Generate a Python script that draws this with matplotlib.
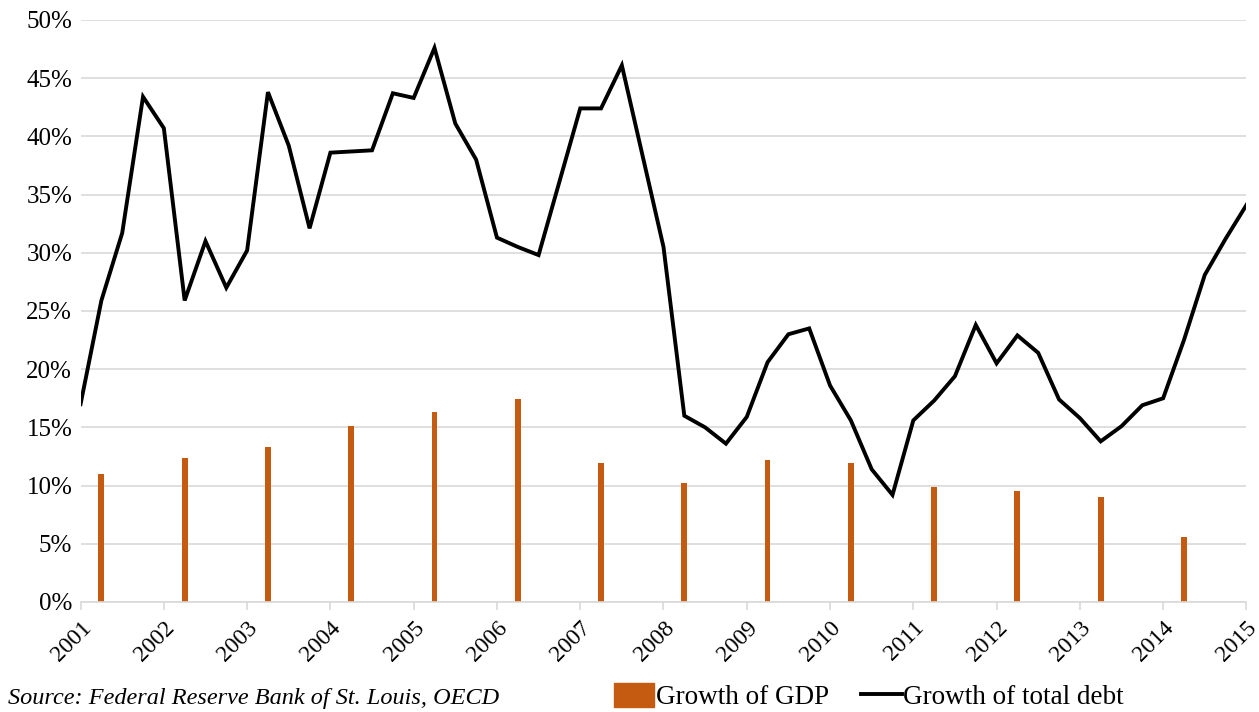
import matplotlib.pyplot as plt
from matplotlib.lines import Line2D
from matplotlib.patches import Patch

plt.rcParams['font.family'] = ['Liberation Serif', 'DejaVu Serif']

# quarterly growth of total debt (%), 2001Q1 .. 2015Q1
debt_growth = [
    17.0, 25.9, 31.7, 43.4, 40.7, 25.9, 31.0, 27.0, 30.2, 43.8,
    39.2, 32.1, 38.6, 38.7, 38.8, 43.7, 43.3, 47.6, 41.1, 38.0,
    31.3, 30.5, 29.8, 36.1, 42.4, 42.4, 46.1, 38.3, 30.5, 16.0,
    15.0, 13.6, 15.9, 20.6, 23.0, 23.5, 18.6, 15.6, 11.4, 9.2,
    15.6, 17.3, 19.4, 23.8, 20.5, 22.9, 21.4, 17.4, 15.8, 13.8,
    15.1, 16.9, 17.5, 22.5, 28.1, 31.2, 34.1,
]
debt_x = [2001 + i / 4 for i in range(len(debt_growth))]

# annual GDP growth (%), plotted at Q2 of each year
gdp_years = list(range(2001, 2015))
gdp_growth = [11.0, 12.4, 13.3, 15.1, 16.3, 17.4, 11.9, 10.2, 12.2, 11.9, 9.9, 9.5, 9.0, 5.6]
gdp_x = [y + 0.25 for y in gdp_years]

year_ticks = list(range(2001, 2016))

ORANGE = '#C55A11'
GRID = '#D9D9D9'

fig = plt.figure(figsize=(12.59, 7.12), dpi=100)
ax = fig.add_axes([0.064, 0.1545, 0.926, 0.8175])

ax.bar(gdp_x, gdp_growth, width=0.07, color=ORANGE, zorder=2)
ax.plot(debt_x, debt_growth, color='black', linewidth=2.8, zorder=3,
        solid_joinstyle='miter')

ax.set_xlim(2001, 2015)
ax.set_ylim(0, 50)
ax.set_yticks(range(0, 51, 5))
ax.set_yticklabels([f'{v}%' for v in range(0, 51, 5)], fontsize=18)
ax.yaxis.grid(True, color=GRID, linewidth=1.2, zorder=0)
ax.set_axisbelow(True)

ax.set_xticks(year_ticks)
ax.set_xticklabels([str(y) for y in year_ticks], rotation=45, ha='right',
                   rotation_mode='anchor', fontsize=17)
ax.tick_params(axis='x', length=6, color=GRID, width=1.2, pad=5)
ax.tick_params(axis='y', length=0, pad=6)

for side in ('top', 'right', 'left'):
    ax.spines[side].set_visible(False)
ax.spines['bottom'].set_color(GRID)
ax.spines['bottom'].set_linewidth(1.2)

fig.text(0.006, 0.004, 'Source: Federal Reserve Bank of St. Louis, OECD',
         style='italic', fontsize=17.5, ha='left', va='bottom')

handles = [Patch(facecolor=ORANGE, edgecolor=ORANGE),
           Line2D([0], [0], color='black', linewidth=2.8)]
fig.legend(handles, ['Growth of GDP', 'Growth of total debt'],
           loc='lower left', bbox_to_anchor=(0.468, -0.032), ncol=2,
           frameon=False, fontsize=19.5, handlelength=1.5, handleheight=1.0,
           handletextpad=0.05, columnspacing=1.2)

fig.savefig('out.png', dpi=100)
